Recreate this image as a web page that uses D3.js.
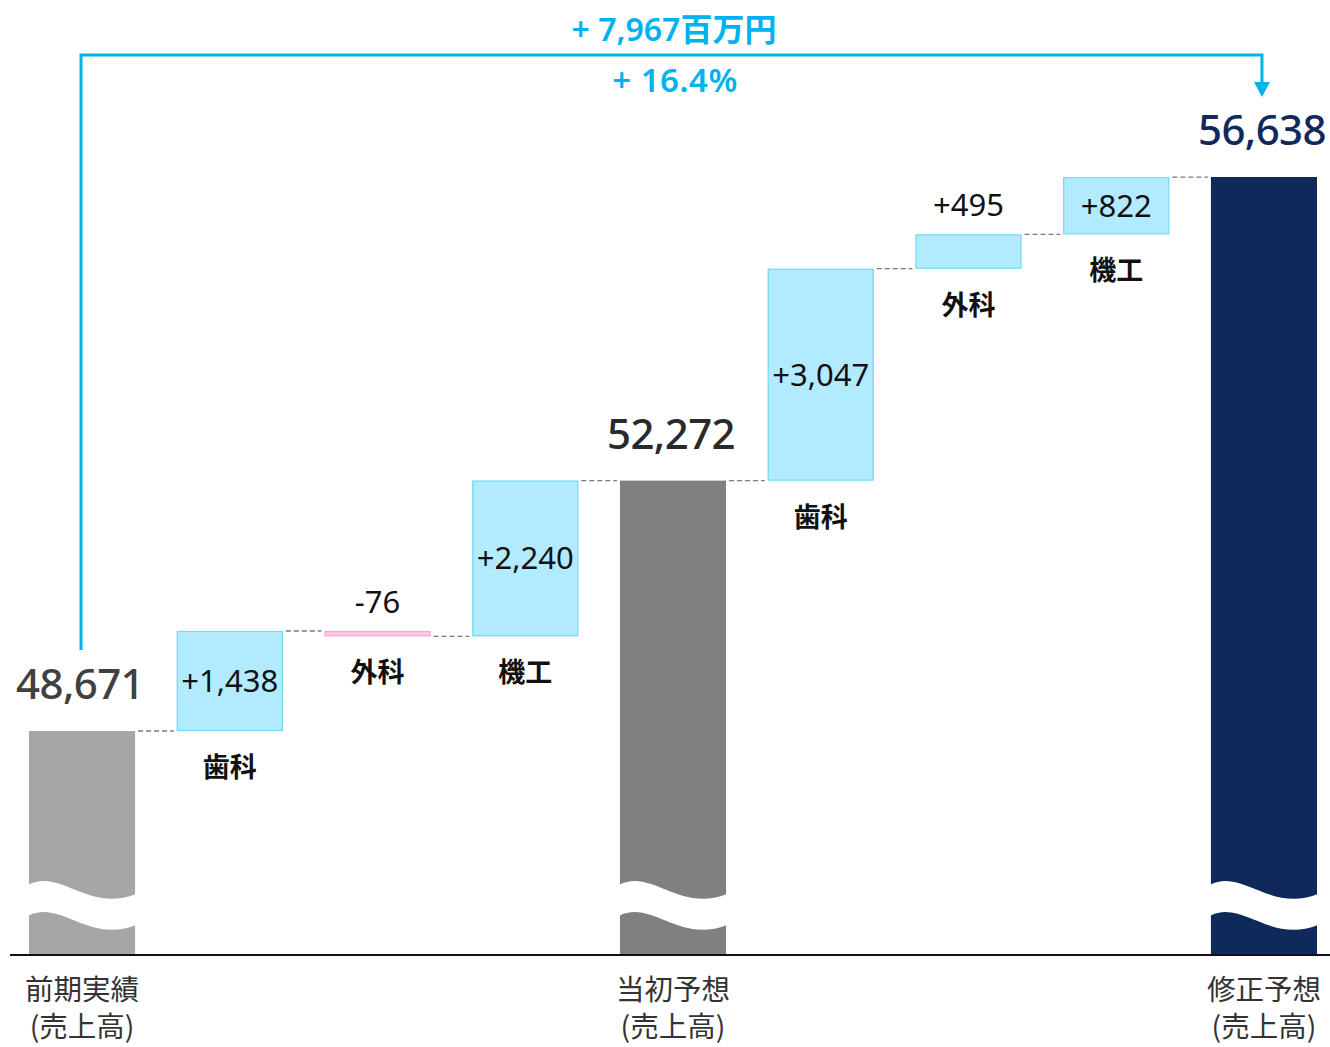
<!DOCTYPE html>
<html>
<head>
<meta charset="utf-8">
<script src="https://cdn.jsdelivr.net/npm/d3@7/dist/d3.min.js"></script>
<style>
  html, body { margin: 0; padding: 0; background: #fff; }
  svg { display: block; font-family: "Noto Sans", "Noto Sans CJK JP", sans-serif; }
</style>
</head>
<body>
<div id="chart"></div>
<script>
// Waterfall steps (百万円)
const stepKeys = ["s0", "s1", "s2", "s3", "s4", "s5", "s6", "s7", "s8"]
const stepTypes = ["total", "delta", "delta", "delta", "total", "delta", "delta", "delta", "total"]
const stepValues = [48671, 1438, -76, 2240, 52272, 3047, 495, 822, 56638]
const stepLabels = ["48,671", "+1,438", "-76", "+2,240", "52,272", "+3,047", "+495", "+822", "56,638"]
const segmentNames = ["", "歯科", "外科", "機工", "", "歯科", "外科", "機工", ""]
const totalNames = [["前期実績", "(売上高)"], ["当初予想", "(売上高)"], ["修正予想", "(売上高)"]]
const totalColors = ["#a6a6a6", "#808080", "#0f295b"]
const totalLabelColors = ["#404040", "#2a2a2a", "#0f295b"]
const changeText = ["+ 7,967百万円", "+ 16.4%"]

const width = 1330, height = 1047
const axisY = 955
const cyan = "#00b2ee"

const svg = d3.select("#chart").append("svg")
  .attr("width", width)
  .attr("height", height)

const x = d3.scaleBand()
  .domain(stepKeys)
  .range([29, 1317])
  .paddingInner(0.282)
  .paddingOuter(0)

// broken axis: domain starts well above zero
const y = d3.scaleLinear()
  .domain([45450, 56638])
  .range([axisY, 177])

// compute start / end of each step
let running = 0
const steps = stepKeys.map((k, i) => {
  let start, end
  if (stepTypes[i] === "total") { start = y.domain()[0]; end = stepValues[i]; running = stepValues[i] }
  else { start = running; end = running + stepValues[i]; running = end }
  return { key: k, type: stepTypes[i], value: stepValues[i], start, end, label: stepLabels[i], name: segmentNames[i] }
})
let totalIdx = 0
steps.forEach(d => { if (d.type === "total") d.ti = totalIdx++ })

const bw = x.bandwidth()

// dashed connectors
const conn = svg.append("g")
steps.slice(0, -1).forEach((d, i) => {
  const nx = steps[i + 1]
  conn.append("line")
    .attr("x1", x(d.key) + bw + 3)
    .attr("x2", x(nx.key) - 3)
    .attr("y1", y(d.end))
    .attr("y2", y(d.end))
    .attr("stroke", "#7a7a7a")
    .attr("stroke-width", 1.3)
    .attr("stroke-dasharray", "5,3")
})

// bars
const bars = svg.append("g")
steps.forEach(d => {
  const top = y(Math.max(d.start, d.end)), bot = y(Math.min(d.start, d.end))
  if (d.type === "total") {
    bars.append("rect")
      .attr("x", x(d.key)).attr("width", bw)
      .attr("y", top).attr("height", bot - top)
      .attr("fill", totalColors[d.ti])
  } else {
    const neg = d.value < 0
    bars.append("rect")
      .attr("x", x(d.key) + 0.5).attr("width", bw - 1)
      .attr("y", top + 0.5).attr("height", Math.max(bot - top - 1, 4))
      .attr("fill", neg ? "#ffc9e2" : "#b2ebff")
      .attr("stroke", neg ? "#ff9fcf" : "#72d8f7")
      .attr("stroke-width", 1.2)
  }
})

// wave break across total bars
steps.filter(d => d.type === "total").forEach(d => {
  const x0 = x(d.key) - 1, x1 = x(d.key) + bw + 1, w = x1 - x0
  const t0 = 885, t1 = 894, gap = 31
  const p = d3.path()
  p.moveTo(x0, t0)
  p.bezierCurveTo(x0 + 0.3 * w, t0 - 17, x0 + 0.55 * w, t1 + 19, x1, t1)
  p.lineTo(x1, t1 + gap)
  p.bezierCurveTo(x0 + 0.55 * w, t1 + gap + 19, x0 + 0.3 * w, t0 + gap - 17, x0, t0 + gap)
  p.closePath()
  svg.append("path").attr("d", p.toString()).attr("fill", "#fff")
})

// axis line
svg.append("line")
  .attr("x1", 10).attr("x2", width)
  .attr("y1", axisY).attr("y2", axisY)
  .attr("stroke", "#111").attr("stroke-width", 2)

// value labels
const labels = svg.append("g")
steps.forEach(d => {
  const cx = x(d.key) + bw / 2
  const top = y(Math.max(d.start, d.end)), bot = y(Math.min(d.start, d.end))
  if (d.type === "total") {
    labels.append("text")
      .attr("x", cx - 2).attr("y", top - 32)
      .attr("text-anchor", "middle")
      .attr("font-size", 42)
      .attr("font-weight", 500)
      .attr("letter-spacing", -0.6)
      .attr("fill", totalLabelColors[d.ti])
      .text(d.label)
  } else {
    const inside = bot - top > 50
    labels.append("text")
      .attr("x", cx)
      .attr("y", inside ? (top + bot) / 2 + 11 : top - 18)
      .attr("text-anchor", "middle")
      .attr("font-size", 31)
      .attr("fill", "#111")
      .text(d.label)
    labels.append("text")
      .attr("x", cx).attr("y", bot + 46)
      .attr("text-anchor", "middle")
      .attr("font-size", 27)
      .attr("font-weight", "bold")
      .attr("font-family", "'Noto Sans CJK JP', sans-serif")
      .attr("fill", "#111")
      .text(d.name)
  }
})

// category labels under axis
steps.filter(d => d.type === "total").forEach(d => {
  const cx = x(d.key) + bw / 2
  totalNames[d.ti].forEach((t, j) => {
    svg.append("text")
      .attr("x", cx).attr("y", 1000 + j * 37)
      .attr("text-anchor", "middle")
      .attr("font-size", 28.5)
      .attr("font-family", "'Noto Sans CJK JP', sans-serif")
      .attr("fill", "#333")
      .text(t)
  })
})

// overall change arrow
const first = steps[0], last = steps[steps.length - 1]
const ax0 = x(first.key) + bw / 2 - 1, ax1 = x(last.key) + bw / 2 - 2
const lineY = 55
svg.append("path")
  .attr("d", `M${ax0},650 L${ax0},${lineY} L${ax1},${lineY} L${ax1},84`)
  .attr("fill", "none")
  .attr("stroke", cyan)
  .attr("stroke-width", 3)
svg.append("path")
  .attr("d", `M${ax1 - 8},82 L${ax1 + 8},82 L${ax1},97 Z`)
  .attr("fill", cyan)

const midX = (x(steps[4].key) + bw / 2) + 1
svg.append("text")
  .attr("x", midX).attr("y", 41)
  .attr("text-anchor", "middle")
  .attr("font-size", 32)
  .attr("font-weight", 600)
  .attr("fill", cyan)
  .text(changeText[0])
svg.append("text")
  .attr("x", midX + 1).attr("y", 92)
  .attr("text-anchor", "middle")
  .attr("font-size", 33)
  .attr("font-weight", 600)
  .attr("letter-spacing", 0.5)
  .attr("fill", cyan)
  .text(changeText[1])
</script>
</body>
</html>
